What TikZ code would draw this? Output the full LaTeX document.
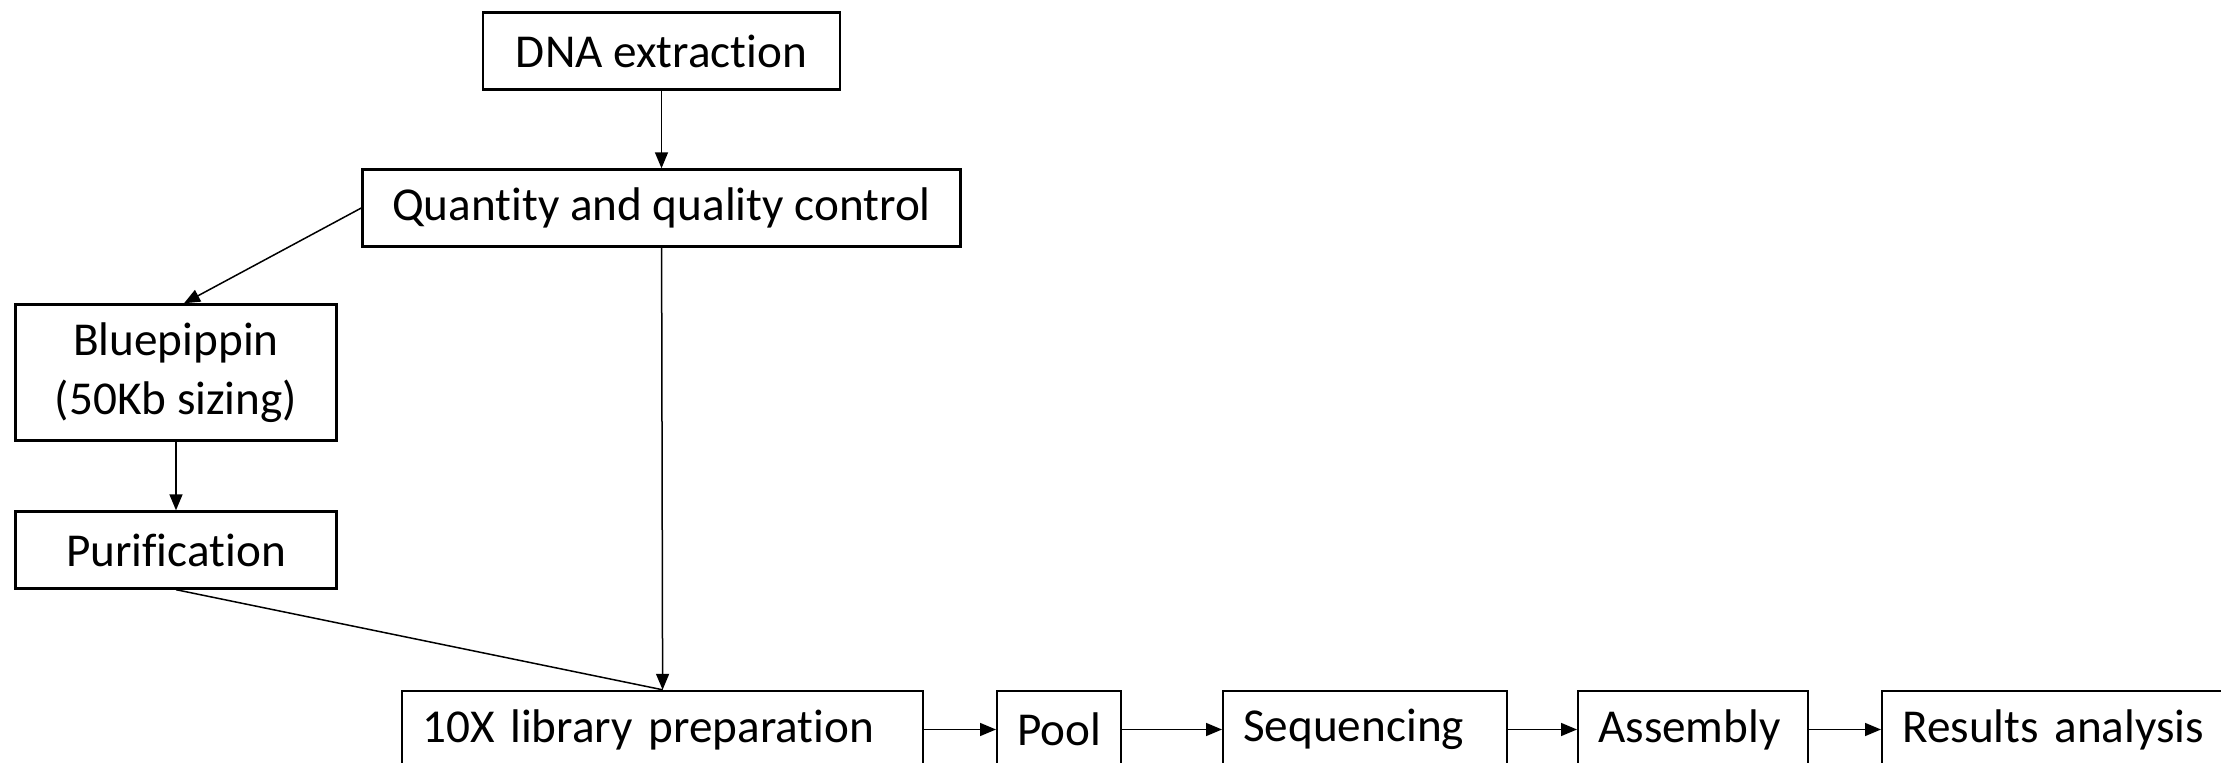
\documentclass[tikz,border=0pt]{standalone}
\usepackage{fontspec}
\setmainfont{Carlito}[Ligatures=NoCommon]
\usetikzlibrary{arrows.meta}
\tikzset{
	stage/.style={draw, line width=1.2pt, minimum height=38.5pt, inner sep=0pt,
		font=\fontsize{23.6}{29.5}\selectfont},
	rowbox/.style={stage, anchor=west, text width=#1, align=left, inner xsep=10pt},
	flow/.style={line width=0.75pt, -{Triangle[length=8pt,width=6.5pt]}},
}
\begin{document}
\begin{tikzpicture}[x=0.5pt,y=-0.5pt]
		\useasboundingbox (0,0) rectangle (2221,763);
		% top column
		\node[stage, minimum width=178.5pt] (dna) at (661.5,51) {DNA extraction};
		\node[stage, minimum width=299pt] (qc) at (661.5,208) {Quantity and quality control};
		% sizing branch
		\node[stage, minimum width=160.5pt, minimum height=68pt, align=center] (blue) at (176,372.5) {Bluepippin\\(50Kb sizing)};
		\node[stage, minimum width=160.5pt] (puri) at (176,550) {Purification};
		% bottom row
		\node[rowbox=240.5pt] (lib) at (401,729.5) {10X library preparation};
		\node[rowbox=42pt] (pool) at (996,729.5) {Pool};
		\node[rowbox=122pt] (seq) at (1222,729.5) {Sequencing};
		\node[rowbox=95pt] (asm) at (1577,729.5) {Assembly};
		\node[rowbox=165pt] (res) at (1881,729.5) {Results analysis};
		% connectors
		\draw[flow] (dna) -- (qc);
		\draw[flow] (qc.west) -- ([xshift=4pt]blue.north);
		\draw[flow] (blue) -- (puri);
		\draw[flow] (qc) -- (lib);
		\draw[line width=0.75pt] (puri.south) -- (lib.north);
		\draw[flow] (lib) -- (pool);
		\draw[flow] (pool) -- (seq);
		\draw[flow] (seq) -- (asm);
		\draw[flow] (asm) -- (res);
\end{tikzpicture}
\end{document}
